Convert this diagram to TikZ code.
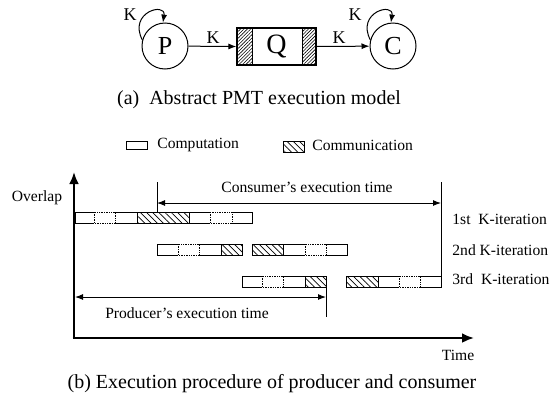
\documentclass[tikz,border=0pt]{standalone}
\usepackage{fontspec}
\setmainfont{Liberation Serif}
\usetikzlibrary{arrows.meta,patterns.meta,calc}

\tikzset{
  hatchbar/.style={pattern={Lines[angle=-45,distance=2.2pt,line width=0.35pt]}},
  hatchq/.style={pattern={Lines[angle=45,distance=1.2pt,line width=0.3pt]}},
  barline/.style={line width=0.45pt},
  innerdash/.style={line width=0.4pt, dash pattern=on 0.7pt off 0.5pt},
  lbl/.style={font=\fontsize{7.8}{9}\selectfont, inner sep=0pt},
  captext/.style={font=\fontsize{10}{12}\selectfont, inner sep=0pt},
  state/.style={circle, draw, line width=0.5pt, minimum size=23pt, inner sep=0pt,
                font=\fontsize{13}{14}\selectfont},
  queue/.style={draw, line width=0.6pt, minimum width=39.5pt, minimum height=18.5pt,
                inner sep=0pt, font=\fontsize{14}{15}\selectfont},
  klbl/.style={font=\fontsize{9}{10}\selectfont, inner sep=0pt},
  flow/.style={line width=0.5pt, -{Latex[length=4pt,width=3pt]}},
  span/.style={line width=0.5pt, {Latex[length=4pt,width=3pt]}-{Latex[length=4pt,width=3pt]}},
  tick/.style={line width=0.5pt},
  axis/.style={line width=1.3pt, -{Latex[length=6pt,width=5pt]}},
}

% computation block: left, dashed part from #2 to #3, right end #4, top #5
\newcommand\compblk[5]{%
  \draw[barline] (#2,#5) -- (#1,#5) -- (#1,#5+11) -- (#2,#5+11);
  \draw[barline] (#3,#5) -- (#4,#5) -- (#4,#5+11) -- (#3,#5+11);
  \draw[innerdash] (#2,#5) rectangle (#3,#5+11);
}
% communication block from #1 to #2, top #3
\newcommand\commblk[3]{\draw[barline,hatchbar] (#1,#3) rectangle (#2,#3+11);}

\begin{document}
\begin{tikzpicture}[x=0.5pt,y=-0.5pt]
\useasboundingbox (0,0) rectangle (550,402);

% ---------- (a) process model ----------
\node[state] (P) at (165,46) {P};
\node[queue] (Q) at (276.5,46.5) {};
\path[hatchq,draw,line width=0.6pt] (Q.north west) rectangle ++(16,37);
\path[hatchq,draw,line width=0.6pt] (Q.north east) rectangle ++(-14,37);
\node[font=\fontsize{14}{15}\selectfont, inner sep=0pt] (Qt) at (Q.center) {Q};
\node[state] (C) at (393,46) {C};

\draw[flow] (P) -- (Q.west);
\draw[flow] (Q.east) -- (C);
\node[klbl] (k1) at (213,38) {K};
\node[klbl] (k2) at (339,38) {K};

\draw[flow] (P.165) .. controls (128,12) and (166,2) .. (P.95);
\draw[flow] (C.165) .. controls (356,12) and (394,2) .. (C.95);
\node[klbl] (kp) at (130,15) {K};
\node[klbl] (kc) at (355,15) {K};

\node[captext] (capa) at (259,100) {(a)\ \ Abstract PMT execution model};

% ---------- legend ----------
\draw[barline] (126,141) rectangle (147,149);
\node[lbl, anchor=west] (lcomp) at (157,145) {Computation};
\commblk{283}{304}{141}
\node[lbl, anchor=west] (lcomm) at (312,145) {Communication};

% ---------- (b) timeline ----------
\coordinate (O) at (74,338);
\coordinate (Ytop) at (74,172);
\coordinate (Xend) at (474,338);
\draw[axis] (O) -- (Ytop);
\draw[axis] ($(O)+(-1.3,0)$) -- (Xend);
\node[lbl] (ylab) at (37,198) {Overlap};
\node[lbl] (xlab) at (458,355) {Time};

% 1st iteration
\compblk{75}{94}{115}{137}{212}
\commblk{137}{189}{212}
\compblk{189}{210}{232}{252}{212}
% 2nd iteration
\compblk{157}{178}{199}{221}{244}
\commblk{221}{242}{244}
\commblk{252}{283}{244}
\compblk{283}{305}{326}{347}{244}
% 3rd iteration
\compblk{242}{262}{283}{305}{276}
\commblk{305}{326}{276}
\commblk{346}{378}{276}
\compblk{378}{399}{420}{441}{276}

\node[lbl, anchor=west] (it1) at (452,219) {1st\ \ K-iteration};
\node[lbl, anchor=west] (it2) at (452,250) {2nd K-iteration};
\node[lbl, anchor=west] (it3) at (452,279) {3rd\ \ K-iteration};

% consumer span
\coordinate (cs) at (157,203);
\coordinate (ce) at (441,203);
\draw[tick] (157,182) -- (157,212);
\draw[tick] (441,182) -- (441,276);
\draw[span] (cs) -- (ce);
\node[lbl] (clab) at (307,187) {Consumer's execution time};

% producer span
\coordinate (ps) at (75,297);
\coordinate (pe) at (326,297);
\draw[tick] (326,287) -- (326,317);
\draw[span] (ps) -- (pe);
\node[lbl] (plab) at (187,313) {Producer's execution time};

\node[captext] (capb) at (272,384) {(b) Execution procedure of producer and consumer};
\end{tikzpicture}
\end{document}
